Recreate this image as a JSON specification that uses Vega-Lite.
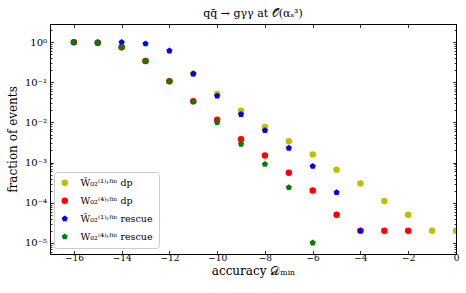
{
  "$schema": "https://vega.github.io/schema/vega-lite/v6.json",
  "width": 406,
  "height": 230,
  "autosize": {"type": "none"},
  "padding": {"left": 50, "top": 24, "right": 10, "bottom": 39},
  "title": {"text": "qq̄ → gγγ at 𝒪(αₛ³)", "fontSize": 11, "font": "DejaVu Serif", "fontWeight": "normal", "offset": 5, "color": "black"},
  "config": {"view": {"stroke": "black", "strokeWidth": 1}, "font": "DejaVu Serif"},
  "datasets": {
    "pts": [
      {"x": -16, "f": 1.0, "series": "W̃₀₂⁽¹⁾˒ᶠⁱⁿ dp"},
      {"x": -15, "f": 0.97, "series": "W̃₀₂⁽¹⁾˒ᶠⁱⁿ dp"},
      {"x": -14, "f": 0.75, "series": "W̃₀₂⁽¹⁾˒ᶠⁱⁿ dp"},
      {"x": -13, "f": 0.34, "series": "W̃₀₂⁽¹⁾˒ᶠⁱⁿ dp"},
      {"x": -12, "f": 0.107, "series": "W̃₀₂⁽¹⁾˒ᶠⁱⁿ dp"},
      {"x": -11, "f": 0.165, "series": "W̃₀₂⁽¹⁾˒ᶠⁱⁿ dp"},
      {"x": -10, "f": 0.051, "series": "W̃₀₂⁽¹⁾˒ᶠⁱⁿ dp"},
      {"x": -9, "f": 0.0195, "series": "W̃₀₂⁽¹⁾˒ᶠⁱⁿ dp"},
      {"x": -8, "f": 0.0077, "series": "W̃₀₂⁽¹⁾˒ᶠⁱⁿ dp"},
      {"x": -7, "f": 0.0034, "series": "W̃₀₂⁽¹⁾˒ᶠⁱⁿ dp"},
      {"x": -6, "f": 0.0016, "series": "W̃₀₂⁽¹⁾˒ᶠⁱⁿ dp"},
      {"x": -5, "f": 0.00066, "series": "W̃₀₂⁽¹⁾˒ᶠⁱⁿ dp"},
      {"x": -4, "f": 0.0003, "series": "W̃₀₂⁽¹⁾˒ᶠⁱⁿ dp"},
      {"x": -3, "f": 0.00011, "series": "W̃₀₂⁽¹⁾˒ᶠⁱⁿ dp"},
      {"x": -2, "f": 0.00005, "series": "W̃₀₂⁽¹⁾˒ᶠⁱⁿ dp"},
      {"x": -1, "f": 0.00002, "series": "W̃₀₂⁽¹⁾˒ᶠⁱⁿ dp"},
      {"x": 0, "f": 0.00002, "series": "W̃₀₂⁽¹⁾˒ᶠⁱⁿ dp"},
      {"x": -16, "f": 1.0, "series": "W₀₂⁽⁴⁾˒ᶠⁱⁿ dp"},
      {"x": -15, "f": 0.97, "series": "W₀₂⁽⁴⁾˒ᶠⁱⁿ dp"},
      {"x": -14, "f": 0.75, "series": "W₀₂⁽⁴⁾˒ᶠⁱⁿ dp"},
      {"x": -13, "f": 0.34, "series": "W₀₂⁽⁴⁾˒ᶠⁱⁿ dp"},
      {"x": -12, "f": 0.107, "series": "W₀₂⁽⁴⁾˒ᶠⁱⁿ dp"},
      {"x": -11, "f": 0.034, "series": "W₀₂⁽⁴⁾˒ᶠⁱⁿ dp"},
      {"x": -10, "f": 0.0117, "series": "W₀₂⁽⁴⁾˒ᶠⁱⁿ dp"},
      {"x": -9, "f": 0.0038, "series": "W₀₂⁽⁴⁾˒ᶠⁱⁿ dp"},
      {"x": -8, "f": 0.0015, "series": "W₀₂⁽⁴⁾˒ᶠⁱⁿ dp"},
      {"x": -7, "f": 0.00056, "series": "W₀₂⁽⁴⁾˒ᶠⁱⁿ dp"},
      {"x": -6, "f": 0.0002, "series": "W₀₂⁽⁴⁾˒ᶠⁱⁿ dp"},
      {"x": -5, "f": 0.00005, "series": "W₀₂⁽⁴⁾˒ᶠⁱⁿ dp"},
      {"x": -4, "f": 0.00002, "series": "W₀₂⁽⁴⁾˒ᶠⁱⁿ dp"},
      {"x": -3, "f": 0.00002, "series": "W₀₂⁽⁴⁾˒ᶠⁱⁿ dp"},
      {"x": -2, "f": 0.00002, "series": "W₀₂⁽⁴⁾˒ᶠⁱⁿ dp"},
      {"x": -16, "f": 1.0, "series": "W̃₀₂⁽¹⁾˒ᶠⁱⁿ rescue"},
      {"x": -15, "f": 0.98, "series": "W̃₀₂⁽¹⁾˒ᶠⁱⁿ rescue"},
      {"x": -14, "f": 1.0, "series": "W̃₀₂⁽¹⁾˒ᶠⁱⁿ rescue"},
      {"x": -13, "f": 0.92, "series": "W̃₀₂⁽¹⁾˒ᶠⁱⁿ rescue"},
      {"x": -12, "f": 0.61, "series": "W̃₀₂⁽¹⁾˒ᶠⁱⁿ rescue"},
      {"x": -11, "f": 0.163, "series": "W̃₀₂⁽¹⁾˒ᶠⁱⁿ rescue"},
      {"x": -10, "f": 0.046, "series": "W̃₀₂⁽¹⁾˒ᶠⁱⁿ rescue"},
      {"x": -9, "f": 0.016, "series": "W̃₀₂⁽¹⁾˒ᶠⁱⁿ rescue"},
      {"x": -8, "f": 0.0063, "series": "W̃₀₂⁽¹⁾˒ᶠⁱⁿ rescue"},
      {"x": -7, "f": 0.0023, "series": "W̃₀₂⁽¹⁾˒ᶠⁱⁿ rescue"},
      {"x": -6, "f": 0.00081, "series": "W̃₀₂⁽¹⁾˒ᶠⁱⁿ rescue"},
      {"x": -5, "f": 0.00018, "series": "W̃₀₂⁽¹⁾˒ᶠⁱⁿ rescue"},
      {"x": -4, "f": 0.00002, "series": "W̃₀₂⁽¹⁾˒ᶠⁱⁿ rescue"},
      {"x": -16, "f": 1.0, "series": "W₀₂⁽⁴⁾˒ᶠⁱⁿ rescue"},
      {"x": -15, "f": 0.97, "series": "W₀₂⁽⁴⁾˒ᶠⁱⁿ rescue"},
      {"x": -14, "f": 0.75, "series": "W₀₂⁽⁴⁾˒ᶠⁱⁿ rescue"},
      {"x": -13, "f": 0.34, "series": "W₀₂⁽⁴⁾˒ᶠⁱⁿ rescue"},
      {"x": -12, "f": 0.107, "series": "W₀₂⁽⁴⁾˒ᶠⁱⁿ rescue"},
      {"x": -11, "f": 0.033, "series": "W₀₂⁽⁴⁾˒ᶠⁱⁿ rescue"},
      {"x": -10, "f": 0.010, "series": "W₀₂⁽⁴⁾˒ᶠⁱⁿ rescue"},
      {"x": -9, "f": 0.0029, "series": "W₀₂⁽⁴⁾˒ᶠⁱⁿ rescue"},
      {"x": -8, "f": 0.00091, "series": "W₀₂⁽⁴⁾˒ᶠⁱⁿ rescue"},
      {"x": -7, "f": 0.00024, "series": "W₀₂⁽⁴⁾˒ᶠⁱⁿ rescue"},
      {"x": -6, "f": 0.00001, "series": "W₀₂⁽⁴⁾˒ᶠⁱⁿ rescue"}
    ]
  },
  "data": {"name": "pts"},
  "layer": [
    {
      "mark": {"type": "point", "filled": true, "opacity": 1, "size": 42, "clip": true},
      "encoding": {
        "x": {
          "field": "x", "type": "quantitative",
          "scale": {"domain": [-17, 0], "nice": false, "zero": false},
          "axis": {
            "orient": "bottom",
            "values": [-16, -14, -12, -10, -8, -6, -4, -2, 0],
            "labelExpr": "replace(format(datum.value, 'd'), '-', '−')",
            "title": "accuracy 𝒟ₘᵢₙ",
            "titleFontSize": 12, "titleFontWeight": "normal", "titleColor": "black", "titlePadding": 3,
            "labelFontSize": 9, "labelColor": "black", "labelPadding": 3, "labelFlush": false,
            "tickSize": -3.5, "tickColor": "black", "tickWidth": 0.8,
            "domainColor": "black", "grid": false
          }
        },
        "y": {
          "field": "f", "type": "quantitative",
          "scale": {"type": "log", "domain": [0.00000525, 2.85], "nice": false},
          "axis": {
            "orient": "left",
            "values": [1, 0.1, 0.01, 0.001, 0.0001, 0.00001, 2, 0.9, 0.8, 0.7, 0.6, 0.5, 0.4, 0.3, 0.2, 0.09, 0.08, 0.07, 0.06, 0.05, 0.04, 0.03, 0.02, 0.009, 0.008, 0.007, 0.006, 0.005, 0.004, 0.003, 0.002, 0.0009, 0.0008, 0.0007, 0.0006, 0.0005, 0.0004, 0.0003, 0.0002, 0.00009, 0.00008, 0.00007, 0.00006, 0.00005, 0.00004, 0.00003, 0.00002, 0.000009, 0.000008, 0.000007, 0.000006],
            "labelExpr": "abs(log(datum.value)/LN10 - round(log(datum.value)/LN10)) < 0.001 ? ['10⁰','10⁻¹','10⁻²','10⁻³','10⁻⁴','10⁻⁵'][-round(log(datum.value)/LN10)] : ''",
            "labelOverlap": false, "labelBound": false,
            "title": "fraction of events",
            "titleFontSize": 12, "titleFontWeight": "normal", "titleColor": "black", "titlePadding": 5,
            "labelFontSize": 10, "labelColor": "black", "labelPadding": 7,
            "tickSize": {"condition": {"test": "abs(log(datum.value)/LN10 - round(log(datum.value)/LN10)) < 0.001", "value": -3.5}, "value": -2},
            "tickColor": "black", "tickWidth": 0.8,
            "domainColor": "black", "grid": false
          }
        },
        "color": {
          "field": "series", "type": "nominal",
          "scale": {
            "domain": ["W̃₀₂⁽¹⁾˒ᶠⁱⁿ dp", "W₀₂⁽⁴⁾˒ᶠⁱⁿ dp", "W̃₀₂⁽¹⁾˒ᶠⁱⁿ rescue", "W₀₂⁽⁴⁾˒ᶠⁱⁿ rescue"],
            "range": ["#bfbf00", "#ff0000", "#0000ff", "#008000"]
          },
          "legend": {
            "orient": "none", "legendX": 4, "legendY": 148, "title": null,
            "fillColor": "white", "strokeColor": "#cccccc", "cornerRadius": 3, "padding": 6,
            "labelFont": "DejaVu Serif", "labelFontSize": 9.5, "labelColor": "black", "symbolSize": 42, "rowPadding": 7, "labelOffset": 11
          }
        },
        "shape": {
          "field": "series", "type": "nominal",
          "scale": {
            "domain": ["W̃₀₂⁽¹⁾˒ᶠⁱⁿ dp", "W₀₂⁽⁴⁾˒ᶠⁱⁿ dp", "W̃₀₂⁽¹⁾˒ᶠⁱⁿ rescue", "W₀₂⁽⁴⁾˒ᶠⁱⁿ rescue"],
            "range": ["circle", "circle", "M0,-1L0.951,-0.309L0.588,0.809L-0.588,0.809L-0.951,-0.309Z", "M0,-1L0.951,-0.309L0.588,0.809L-0.588,0.809L-0.951,-0.309Z"]
          }
        }
      }
    },
    {
      "mark": {"type": "point", "opacity": 0},
      "encoding": {
        "x": {
          "field": "x", "type": "quantitative",
          "axis": {
            "orient": "top", "values": [-16, -14, -12, -10, -8, -6, -4, -2, 0],
            "labels": false, "title": null, "tickSize": -3.5, "tickColor": "black", "tickWidth": 0.8,
            "domainColor": "black", "grid": false
          }
        },
        "y": {
          "field": "f", "type": "quantitative",
          "axis": {
            "orient": "right",
            "values": [1, 0.1, 0.01, 0.001, 0.0001, 0.00001, 2, 0.9, 0.8, 0.7, 0.6, 0.5, 0.4, 0.3, 0.2, 0.09, 0.08, 0.07, 0.06, 0.05, 0.04, 0.03, 0.02, 0.009, 0.008, 0.007, 0.006, 0.005, 0.004, 0.003, 0.002, 0.0009, 0.0008, 0.0007, 0.0006, 0.0005, 0.0004, 0.0003, 0.0002, 0.00009, 0.00008, 0.00007, 0.00006, 0.00005, 0.00004, 0.00003, 0.00002, 0.000009, 0.000008, 0.000007, 0.000006],
            "labels": false, "title": null,
            "tickSize": {"condition": {"test": "abs(log(datum.value)/LN10 - round(log(datum.value)/LN10)) < 0.001", "value": -3.5}, "value": -2},
            "tickColor": "black", "tickWidth": 0.8,
            "domainColor": "black", "grid": false
          }
        }
      }
    }
  ],
  "resolve": {"axis": {"x": "independent", "y": "independent"}}
}
